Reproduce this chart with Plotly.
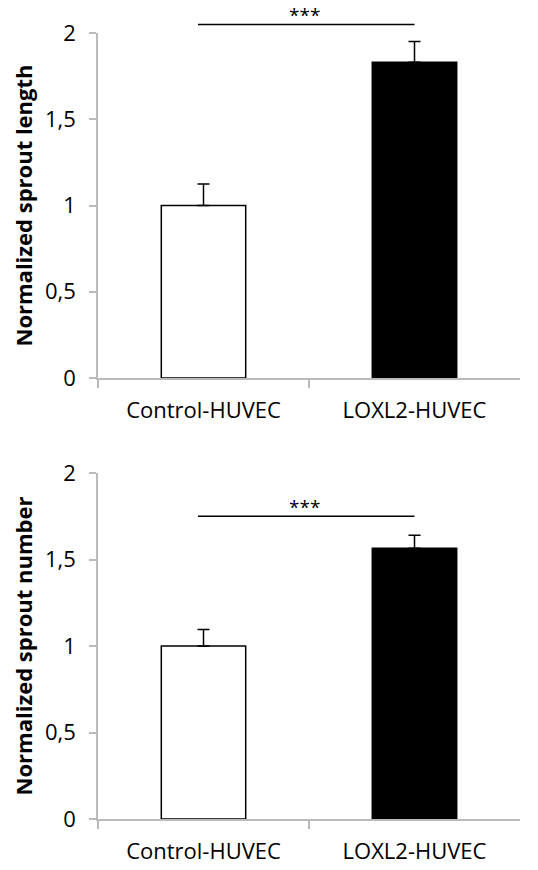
import plotly.graph_objects as go
from plotly.subplots import make_subplots

groups = ['Control-HUVEC', 'LOXL2-HUVEC']

length_mean = [1.0, 1.83]
length_err = [0.125, 0.12]
length_sig = 2.05

number_mean = [1.0, 1.565]
number_err = [0.095, 0.075]
number_sig = 1.75

y_max = 2
y_ticks = [0, 0.5, 1, 1.5, 2]

bar_colors = ['white', 'black']
axis_gray = '#bababa'
font_family = 'Open Sans, sans-serif'

fig = make_subplots(rows=2, cols=1, vertical_spacing=0.1)

panels = [
    (1, length_mean, length_err, length_sig, 'Normalized sprout length'),
    (2, number_mean, number_err, number_sig, 'Normalized sprout number'),
]

for row, means, errs, sig, title in panels:
    fig.add_trace(go.Bar(
        x=groups,
        y=means,
        width=0.4,
        marker=dict(color=bar_colors, line=dict(color='black', width=1.5)),
        error_y=dict(type='data', symmetric=False, array=errs,
                     arrayminus=[0] * len(errs), color='black',
                     thickness=1.5, width=6),
        showlegend=False,
    ), row=row, col=1)

    xd = 'x domain' if row == 1 else 'x2 domain'
    yd = 'y domain' if row == 1 else 'y2 domain'
    fig.add_shape(type='line', xref=xd, yref=yd,
                  x0=0.237, x1=0.75, y0=sig / y_max, y1=sig / y_max,
                  line=dict(color='black', width=1.5))
    fig.add_annotation(xref=xd, yref=yd, x=0.49, y=sig / y_max,
                       text='***', showarrow=False, yanchor='bottom',
                       yshift=-6, font=dict(size=19, color='black'))

    fig.update_yaxes(
        range=[0, y_max], tickvals=y_ticks, title_text=title,
        title_font=dict(size=22, family=font_family, color='black', weight='bold'),
        title_standoff=16,
        showline=True, linecolor=axis_gray, linewidth=1.5,
        ticks='outside', ticklen=7, tickcolor=axis_gray, tickwidth=1.5,
        ticklabelstandoff=9,
        tickfont=dict(size=22, color='black'),
        showgrid=False, zeroline=False, automargin=False,
        row=row, col=1)
    fig.update_xaxes(
        showline=True, linecolor=axis_gray, linewidth=1.5,
        ticks='outside', tickson='boundaries', ticklen=8,
        tickcolor=axis_gray, tickwidth=1.5,
        ticklabelstandoff=12,
        tickfont=dict(size=22, color='black'),
        showgrid=False, automargin=False,
        row=row, col=1)

# page body keeps an 8px margin, so the figure is 16px smaller than the window
fig.update_xaxes(domain=[90 / 522, 512 / 522])
fig.update_yaxes(domain=[1 - 370 / 854, 1 - 25 / 854], row=1, col=1)
fig.update_yaxes(domain=[1 - 811 / 854, 1 - 465 / 854], row=2, col=1)

fig.update_layout(
    width=522, height=854,
    margin=dict(l=0, r=0, t=0, b=0),
    plot_bgcolor='white', paper_bgcolor='white',
    separators=',.',
    font=dict(family=font_family, color='black'),
    bargap=0.6,
)

fig.write_html('out.html')
